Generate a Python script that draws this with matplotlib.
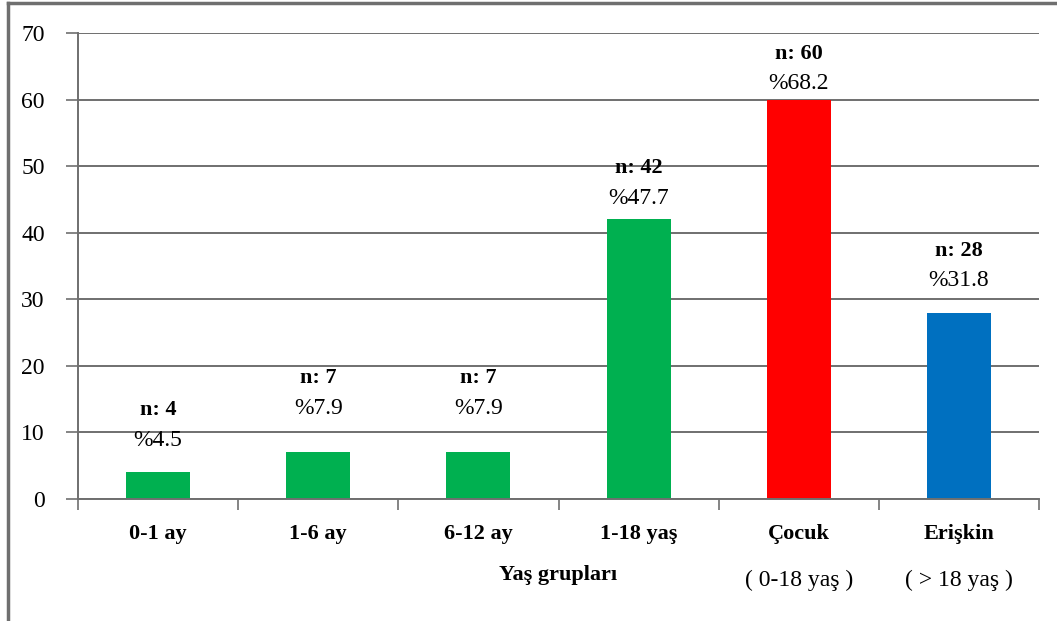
import matplotlib
matplotlib.use("Agg")
import matplotlib.pyplot as plt
from matplotlib.lines import Line2D

# age groups and counts
groups = ["0-1 ay", "1-6 ay", "6-12 ay", "1-18 yaş", "Çocuk", "Erişkin"]
subtitles = ["", "", "", "", "( 0-18 yaş )", "( > 18 yaş )"]
counts = [4, 7, 7, 42, 60, 28]
percents = [4.5, 7.9, 7.9, 47.7, 68.2, 31.8]
bar_colors = ["#00B050", "#00B050", "#00B050", "#00B050", "#FF0000", "#0070C0"]
# label lift above each bar top, in pixels
label_lift = [32, 44, 44, 21, 16, 32]

plt.rcParams["font.family"] = ["Liberation Serif", "DejaVu Serif"]

fig = plt.figure(figsize=(10.57, 6.21), dpi=100)
ax = fig.add_axes([78 / 1057, 1 - 499 / 621, 961 / 1057, 466 / 621])

x = list(range(len(groups)))
ax.bar(x, counts, width=0.4, color=bar_colors, zorder=3)

ax.set_xlim(-0.5, len(groups) - 0.5)
ax.set_ylim(0, 70)
ax.set_yticks(range(0, 71, 10))
ax.yaxis.grid(True, color="#6f6f6f", linewidth=1.4, zorder=0)
ax.tick_params(axis="y", length=9, width=1.2, color="#6f6f6f", pad=15, labelsize=17)

# ticks on category boundaries, labels in the middle
ax.set_xticks([i - 0.5 for i in range(len(groups) + 1)])
ax.set_xticklabels([])
ax.tick_params(axis="x", length=8, width=1.2, color="#6f6f6f")
for i, g in enumerate(groups):
    ax.annotate(g, xy=(i, 0), xytext=(0, -35), textcoords="offset pixels",
                ha="center", va="center", fontsize=16, fontweight="bold")
    if subtitles[i]:
        ax.annotate(subtitles[i], xy=(i, 0), xytext=(0, -81), textcoords="offset pixels",
                    ha="center", va="center", fontsize=17)

ax.annotate("Yaş grupları", xy=(0.5, 0), xycoords="axes fraction",
            xytext=(0, -76), textcoords="offset pixels",
            ha="center", va="center", fontsize=16, fontweight="bold")

for spine in ["top", "right"]:
    ax.spines[spine].set_visible(False)
for spine in ["left", "bottom"]:
    ax.spines[spine].set_color("#6f6f6f")
    ax.spines[spine].set_linewidth(1.4)
    ax.spines[spine].set_zorder(4)

# value labels above the bars
for i, (n, p) in enumerate(zip(counts, percents)):
    ax.annotate(f"%{p}", xy=(i, n), xytext=(0, label_lift[i]), textcoords="offset pixels",
                ha="center", va="center", fontsize=17)
    ax.annotate(f"n: {n}", xy=(i, n), xytext=(0, label_lift[i] + 30), textcoords="offset pixels",
                ha="center", va="center", fontsize=16, fontweight="bold")

# frame lines on the left and top of the picture
fig.add_artist(Line2D([7.5 / 1057, 7.5 / 1057], [0, 1 - 3 / 621], color="#6f6f6f", linewidth=2.5))
fig.add_artist(Line2D([7.5 / 1057, 1], [1 - 3 / 621, 1 - 3 / 621], color="#6f6f6f", linewidth=2.5))

fig.savefig("out.png", dpi=100)
